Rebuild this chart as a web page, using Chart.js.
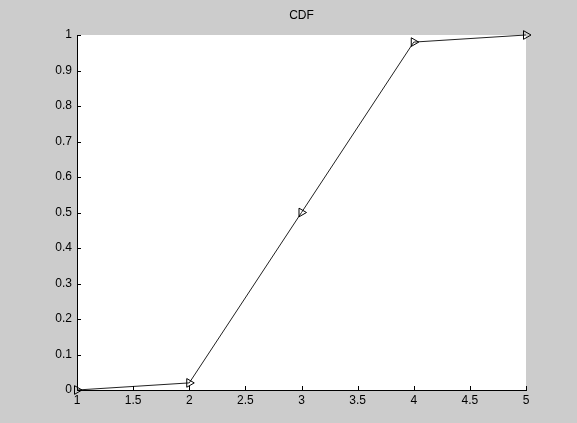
<!DOCTYPE html>
<html>
<head>
<meta charset="utf-8">
<script src="https://cdn.jsdelivr.net/npm/chart.js@4/dist/chart.umd.min.js"></script>
<style>
  html, body { margin: 0; padding: 0; background: #cccccc; }
  #wrap { width: 577px; height: 423px; }
</style>
</head>
<body>
<div id="wrap"><canvas id="cdfChart" width="577" height="423"></canvas></div>
<script>
// data
const xValues = [1, 2, 3, 4, 5];
const cdfValues = [0, 0.02, 0.5, 0.98, 1];
const xTicks = [1, 1.5, 2, 2.5, 3, 3.5, 4, 4.5, 5];
const yTicks = [0, 0.1, 0.2, 0.3, 0.4, 0.5, 0.6, 0.7, 0.8, 0.9, 1];

const FONT = 'Arial, "Liberation Sans", sans-serif';

// grey figure, white axes box
const backdrop = {
    id: 'backdrop',
    beforeDraw(chart) {
        const { ctx, chartArea: a } = chart;
        ctx.save();
        ctx.fillStyle = '#cccccc';
        ctx.fillRect(0, 0, chart.width, chart.height);
        ctx.fillStyle = '#ffffff';
        ctx.fillRect(a.left, a.top, a.right - a.left, a.bottom - a.top);
        ctx.restore();
    }
};

// centre the title over the axes box, not the whole canvas
const titleOverAxes = {
    id: 'titleOverAxes',
    afterLayout(chart) {
        const t = chart.titleBlock;
        if (!t) return;
        t.left = chart.chartArea.left;
        t.right = chart.chartArea.right;
        t.width = t.right - t.left;
    }
};

// matlab style ticks pointing into the plot
const innerTicks = {
    id: 'innerTicks',
    afterDraw(chart) {
        const { ctx, chartArea: a, scales } = chart;
        ctx.save();
        ctx.strokeStyle = '#000';
        ctx.lineWidth = 1;
        ctx.beginPath();
        xTicks.forEach(v => {
            const px = Math.round(scales.x.getPixelForValue(v)) + 0.5;
            ctx.moveTo(px, a.bottom);
            ctx.lineTo(px, a.bottom - 4);
        });
        yTicks.forEach(v => {
            const py = Math.round(scales.y.getPixelForValue(v)) + 0.5;
            ctx.moveTo(a.left, py);
            ctx.lineTo(a.left + 4, py);
        });
        ctx.stroke();
        ctx.restore();
    }
};

new Chart(document.getElementById('cdfChart').getContext('2d'), {
    type: 'line',
    data: {
        datasets: [{
            data: xValues.map((x, i) => ({ x: x, y: cdfValues[i] })),
            borderColor: '#222',
            borderWidth: 1,
            backgroundColor: 'rgba(0,0,0,0)',
            pointStyle: 'triangle',
            rotation: 90,
            pointRadius: 5,
            pointBorderColor: '#000',
            pointBorderWidth: 1,
            pointBackgroundColor: 'rgba(0,0,0,0)',
            tension: 0,
            clip: false
        }]
    },
    options: {
        responsive: false,
        animation: false,
        layout: { padding: { left: 0, right: 51, top: 0, bottom: 0 } },
        plugins: {
            legend: { display: false },
            tooltip: { enabled: false },
            title: {
                display: true,
                text: 'CDF',
                color: '#000',
                font: { family: FONT, size: 12, weight: 'normal', lineHeight: 1.2 },
                padding: { top: 8, bottom: 12.6 }
            }
        },
        scales: {
            x: {
                type: 'linear',
                min: 1,
                max: 5,
                grid: { display: false, drawTicks: false },
                border: { display: true, color: '#000', width: 1 },
                afterBuildTicks: axis => { axis.ticks = xTicks.map(v => ({ value: v })); },
                afterFit: axis => { axis.height = 33; },
                ticks: {
                    color: '#000',
                    padding: 3,
                    maxRotation: 0,
                    font: { family: FONT, size: 12 },
                    callback: v => String(v)
                }
            },
            y: {
                type: 'linear',
                min: 0,
                max: 1,
                grid: { display: false, drawTicks: false },
                border: { display: true, color: '#000', width: 1 },
                afterBuildTicks: axis => { axis.ticks = yTicks.map(v => ({ value: v })); },
                afterFit: axis => { axis.width = 77; },
                ticks: {
                    color: '#000',
                    padding: 5,
                    font: { family: FONT, size: 12 },
                    callback: v => String(v)
                }
            }
        }
    },
    plugins: [backdrop, titleOverAxes, innerTicks]
});
</script>
</body>
</html>
